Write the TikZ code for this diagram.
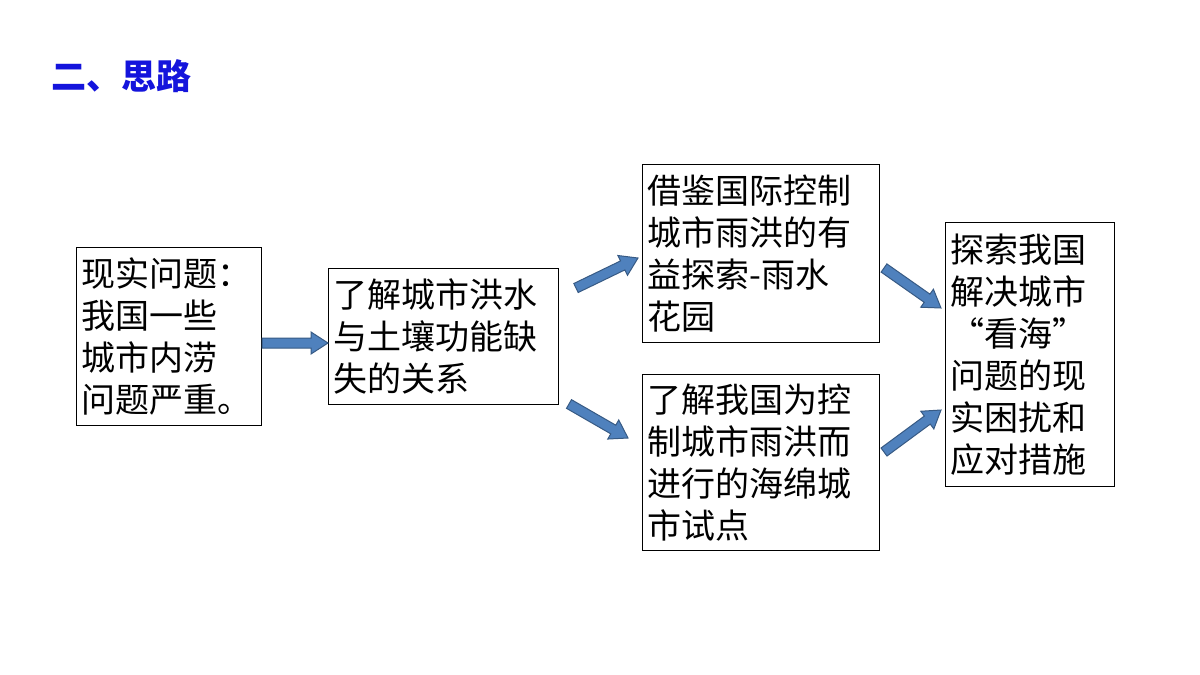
\documentclass[tikz,border=0pt]{standalone}
\usepackage{fontspec}
\setmainfont{Noto Sans CJK SC}
\usetikzlibrary{calc}
\definecolor{arrowblue}{RGB}{79,129,189}
\definecolor{titleblue}{RGB}{20,20,220}
\begin{document}
\begin{tikzpicture}[x=1pt,y=-1pt,
    box/.style={draw=black, line width=0.8pt, anchor=north west, align=left,
      inner xsep=5pt, inner ysep=3pt, font=\fontsize{34}{42}\selectfont},
    flow/.style={draw=arrowblue!70!black, line width=1pt, fill=arrowblue}]
  \useasboundingbox (0,0) rectangle (1200,675);
  \node[anchor=west, text=titleblue, font=\fontsize{35}{38}\selectfont\bfseries] (title) at (48,76) {二、思路};

  \node[box, text width=175pt, minimum height=178pt] (a) at (76,247) {现实问题：\\我国一些\\城市内涝\\问题严重。};
  \node[box, text width=220pt, minimum height=136pt] (b) at (328,268) {了解城市洪水\\与土壤功能缺\\失的关系};
  \node[box, text width=227pt, minimum height=178pt] (c) at (642,164) {借鉴国际控制\\城市雨洪的有\\益探索-雨水\\花园};
  \node[box, text width=227pt, minimum height=176pt] (d) at (642,374) {了解我国为控\\制城市雨洪而\\进行的海绵城\\市试点};
  \node[box, text width=159pt, minimum height=264pt] (e) at (945,222) {探索我国\\解决城市\\“看海”\\问题的现\\实困扰和\\应对措施};

  % block arrows
  \coordinate (ab1) at (262,343); \coordinate (ab2) at (328,343);
  \coordinate (bc1) at (576,288); \coordinate (bc2) at (638,258);
  \coordinate (bd1) at (569,404); \coordinate (bd2) at (628,438);
  \coordinate (ce1) at (884,268); \coordinate (ce2) at (941,308);
  \coordinate (de1) at (884,452); \coordinate (de2) at (941,410);
  \foreach \s/\t in {ab1/ab2, bc1/bc2, bd1/bd2, ce1/ce2, de1/de2}
    \path let \p1=(\s), \p2=(\t), \n1={atan2(\y2-\y1,\x2-\x1)}, \n2={veclen(\x2-\x1,\y2-\y1)} in
      [flow] ($(\p1)+(\n1+90:5pt)$) -- ++(\n1:\n2-17pt) -- ++(\n1+90:6pt) -- (\p2)
      -- ($(\p1)+(\n1:\n2-17pt)+(\n1-90:11pt)$) -- ++(\n1+90:6pt) -- ++(\n1+180:\n2-17pt) -- cycle;
\end{tikzpicture}
\end{document}
